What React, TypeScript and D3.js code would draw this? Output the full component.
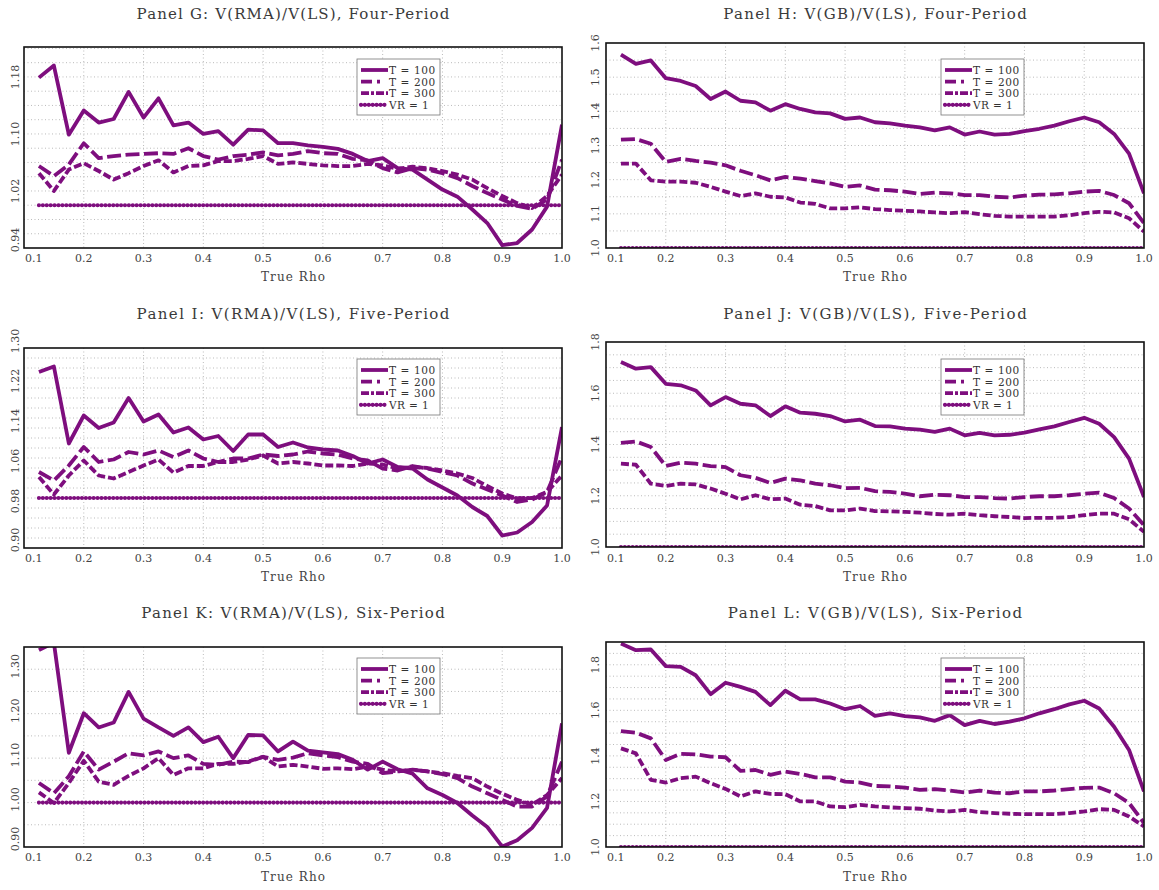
import * as d3 from 'd3'

// true rho grid shared by every panel
const rho = [0.125, 0.15, 0.175, 0.2, 0.225, 0.25, 0.275, 0.3, 0.325, 0.35,
  0.375, 0.4, 0.425, 0.45, 0.475, 0.5, 0.525, 0.55, 0.575, 0.6,
  0.625, 0.65, 0.675, 0.7, 0.725, 0.75, 0.775, 0.8, 0.825, 0.85,
  0.875, 0.9, 0.925, 0.95, 0.975, 1.0]

const xTicks = [0.1, 0.2, 0.3, 0.4, 0.5, 0.6, 0.7, 0.8, 0.9, 1.0]
const xTickLabels = ['0.1', '0.2', '0.3', '0.4', '0.5', '0.6', '0.7', '0.8', '0.9', '1.0']
const legendLabels = ['T = 100', 'T = 200', 'T = 300', 'VR = 1']
const vrLevel = 1

// Panel G
const gT100 = [1.179, 1.196, 1.099, 1.133, 1.116, 1.121, 1.159, 1.123, 1.150, 1.112,
  1.116, 1.100, 1.104, 1.085, 1.106, 1.105, 1.087, 1.087, 1.084, 1.082,
  1.079, 1.072, 1.062, 1.066, 1.052, 1.050, 1.036, 1.022, 1.012, 0.994,
  0.975, 0.944, 0.947, 0.966, 0.998, 1.113]
const gT200 = [1.055, 1.041, 1.057, 1.087, 1.066, 1.069, 1.071, 1.072, 1.073, 1.072,
  1.080, 1.069, 1.064, 1.069, 1.071, 1.074, 1.070, 1.072, 1.076, 1.073,
  1.072, 1.065, 1.063, 1.052, 1.046, 1.052, 1.050, 1.045, 1.038, 1.027,
  1.017, 1.008, 0.999, 0.995, 1.008, 1.064]
const gT300 = [1.045, 1.020, 1.050, 1.059, 1.048, 1.036, 1.045, 1.055, 1.063, 1.046,
  1.055, 1.056, 1.062, 1.062, 1.065, 1.069, 1.058, 1.060, 1.058, 1.056,
  1.055, 1.055, 1.058, 1.056, 1.051, 1.054, 1.052, 1.048, 1.043, 1.036,
  1.024, 1.013, 1.003, 0.996, 1.013, 1.043]

// Panel H
const hT100 = [1.566, 1.539, 1.549, 1.497, 1.489, 1.474, 1.436, 1.458, 1.431, 1.426,
  1.402, 1.421, 1.407, 1.397, 1.394, 1.378, 1.382, 1.368, 1.365, 1.358,
  1.353, 1.344, 1.353, 1.332, 1.341, 1.332, 1.334, 1.342, 1.349, 1.358,
  1.371, 1.382, 1.368, 1.334, 1.276, 1.160]
const hT200 = [1.317, 1.319, 1.305, 1.252, 1.261, 1.255, 1.250, 1.242, 1.226, 1.213,
  1.198, 1.208, 1.203, 1.196, 1.189, 1.179, 1.183, 1.171, 1.169, 1.165,
  1.158, 1.162, 1.160, 1.155, 1.155, 1.150, 1.148, 1.153, 1.156, 1.157,
  1.160, 1.165, 1.167, 1.155, 1.131, 1.073]
const hT300 = [1.247, 1.247, 1.198, 1.194, 1.194, 1.191, 1.179, 1.165, 1.152, 1.160,
  1.150, 1.148, 1.133, 1.129, 1.116, 1.116, 1.119, 1.114, 1.111, 1.109,
  1.107, 1.104, 1.102, 1.105, 1.099, 1.094, 1.092, 1.092, 1.092, 1.092,
  1.096, 1.102, 1.106, 1.104, 1.087, 1.048]

// Panel I
const iT100 = [1.252, 1.263, 1.109, 1.165, 1.140, 1.151, 1.200, 1.153, 1.167, 1.131,
  1.141, 1.117, 1.124, 1.094, 1.127, 1.127, 1.102, 1.111, 1.101, 1.097,
  1.095, 1.084, 1.069, 1.077, 1.062, 1.059, 1.037, 1.021, 1.005, 0.982,
  0.964, 0.925, 0.931, 0.952, 0.985, 1.142]
const iT200 = [1.052, 1.035, 1.065, 1.102, 1.072, 1.077, 1.092, 1.087, 1.095, 1.082,
  1.095, 1.079, 1.072, 1.079, 1.079, 1.087, 1.084, 1.087, 1.093, 1.089,
  1.087, 1.079, 1.075, 1.059, 1.055, 1.064, 1.059, 1.052, 1.045, 1.029,
  1.017, 1.005, 0.992, 0.997, 1.012, 1.082]
const iT300 = [1.042, 1.007, 1.045, 1.075, 1.045, 1.039, 1.052, 1.065, 1.077, 1.051,
  1.064, 1.064, 1.072, 1.072, 1.077, 1.085, 1.069, 1.072, 1.069, 1.065,
  1.065, 1.064, 1.069, 1.067, 1.059, 1.062, 1.060, 1.055, 1.049, 1.040,
  1.024, 1.009, 0.999, 1.000, 1.012, 1.045]

// Panel J
const jT100 = [1.722, 1.696, 1.702, 1.637, 1.631, 1.611, 1.553, 1.585, 1.559, 1.553,
  1.511, 1.549, 1.524, 1.520, 1.511, 1.490, 1.497, 1.472, 1.471, 1.462,
  1.458, 1.449, 1.462, 1.436, 1.445, 1.436, 1.438, 1.446, 1.459, 1.471,
  1.488, 1.504, 1.481, 1.429, 1.345, 1.195]
const jT200 = [1.406, 1.412, 1.390, 1.316, 1.329, 1.325, 1.316, 1.312, 1.280, 1.270,
  1.250, 1.267, 1.260, 1.247, 1.241, 1.230, 1.231, 1.218, 1.215, 1.208,
  1.198, 1.204, 1.202, 1.195, 1.195, 1.191, 1.189, 1.195, 1.198, 1.198,
  1.202, 1.208, 1.212, 1.191, 1.150, 1.085]
const jT300 = [1.325, 1.321, 1.247, 1.238, 1.247, 1.244, 1.228, 1.208, 1.186, 1.202,
  1.186, 1.189, 1.165, 1.160, 1.143, 1.143, 1.150, 1.140, 1.139, 1.137,
  1.134, 1.129, 1.126, 1.130, 1.124, 1.120, 1.117, 1.113, 1.114, 1.114,
  1.117, 1.124, 1.130, 1.130, 1.108, 1.059]

// Panel K
const kT100 = [1.343, 1.360, 1.112, 1.201, 1.169, 1.180, 1.249, 1.189, 1.169, 1.150,
  1.169, 1.136, 1.148, 1.100, 1.152, 1.151, 1.115, 1.137, 1.117, 1.113,
  1.109, 1.096, 1.074, 1.092, 1.075, 1.065, 1.032, 1.017, 0.999, 0.971,
  0.945, 0.901, 0.915, 0.943, 0.988, 1.178]
const kT200 = [1.044, 1.021, 1.059, 1.115, 1.074, 1.092, 1.111, 1.106, 1.115, 1.100,
  1.106, 1.087, 1.085, 1.092, 1.091, 1.103, 1.096, 1.101, 1.111, 1.106,
  1.102, 1.092, 1.087, 1.066, 1.070, 1.074, 1.070, 1.064, 1.055, 1.036,
  1.021, 1.006, 0.991, 0.991, 1.014, 1.092]
const kT300 = [1.023, 0.999, 1.044, 1.094, 1.047, 1.040, 1.060, 1.077, 1.100, 1.062,
  1.077, 1.077, 1.087, 1.087, 1.092, 1.103, 1.081, 1.085, 1.081, 1.076,
  1.077, 1.075, 1.081, 1.074, 1.070, 1.074, 1.070, 1.066, 1.060, 1.055,
  1.036, 1.020, 1.006, 0.995, 1.017, 1.055]

// Panel L
const lT100 = [1.893, 1.864, 1.867, 1.794, 1.791, 1.754, 1.671, 1.721, 1.703, 1.681,
  1.623, 1.686, 1.648, 1.648, 1.630, 1.605, 1.619, 1.576, 1.587, 1.575,
  1.569, 1.554, 1.579, 1.535, 1.554, 1.540, 1.550, 1.565, 1.587, 1.605,
  1.626, 1.642, 1.608, 1.528, 1.426, 1.244]
const lT200 = [1.509, 1.502, 1.477, 1.382, 1.409, 1.407, 1.397, 1.394, 1.334, 1.338,
  1.317, 1.331, 1.321, 1.306, 1.306, 1.287, 1.283, 1.268, 1.266, 1.261,
  1.251, 1.254, 1.248, 1.239, 1.248, 1.239, 1.236, 1.244, 1.244, 1.248,
  1.254, 1.260, 1.261, 1.236, 1.193, 1.105]
const lT300 = [1.433, 1.411, 1.295, 1.283, 1.302, 1.309, 1.280, 1.255, 1.222, 1.244,
  1.233, 1.232, 1.200, 1.200, 1.178, 1.175, 1.185, 1.178, 1.174, 1.171,
  1.168, 1.160, 1.156, 1.163, 1.153, 1.149, 1.146, 1.144, 1.144, 1.144,
  1.149, 1.156, 1.166, 1.163, 1.134, 1.090]

const PURPLE = '#7e0e7e'
const SERIF = '"DejaVu Serif", "Liberation Serif", serif'

// dash patterns: plot lines read as plain dashes, legend samples show the dash-dot
const styles = [
  { dash: null, legend: null, width: 3.8, cap: 'butt' },
  { dash: '14 4.5', legend: '11 5 3 9', width: 3.8, cap: 'butt' },
  { dash: '8 3', legend: '8 2 3 2', width: 3.8, cap: 'butt' },
  { dash: '0.01 3.9', legend: '0.01 3.9', width: 4.2, cap: 'round' },
]

const panels = [
  { id: 'G', title: 'Panel G: V(RMA)/V(LS), Four-Period', box: [24, 47, 562, 248], yDomain: [0.94, 1.222], grid: 0.02,
    yTicks: [0.94, 1.02, 1.10, 1.18], yLabels: ['0.94', '1.02', '1.10', '1.18'], series: [gT100, gT200, gT300], row: 0, col: 0, shift: 0 },
  { id: 'H', title: 'Panel H: V(GB)/V(LS), Four-Period', box: [606, 43, 1144, 248], yDomain: [1.0, 1.6], grid: 0.05,
    yTicks: [1.0, 1.1, 1.2, 1.3, 1.4, 1.5, 1.6], yLabels: ['1.0', '1.1', '1.2', '1.3', '1.4', '1.5', '1.6'], series: [hT100, hT200, hT300], row: 0, col: 1, shift: 0 },
  { id: 'I', title: 'Panel I: V(RMA)/V(LS), Five-Period', box: [24, 348, 562, 548], yDomain: [0.90, 1.30], grid: 0.02,
    yTicks: [0.90, 0.98, 1.06, 1.14, 1.22, 1.30], yLabels: ['0.90', '0.98', '1.06', '1.14', '1.22', '1.30'], series: [iT100, iT200, iT300], row: 1, col: 0, shift: -7 },
  { id: 'J', title: 'Panel J: V(GB)/V(LS), Five-Period', box: [606, 342, 1144, 547], yDomain: [1.0, 1.8], grid: 0.05,
    yTicks: [1.0, 1.2, 1.4, 1.6, 1.8], yLabels: ['1.0', '1.2', '1.4', '1.6', '1.8'], series: [jT100, jT200, jT300], row: 1, col: 1, shift: 0 },
  { id: 'K', title: 'Panel K: V(RMA)/V(LS), Six-Period', box: [24, 647, 562, 847], yDomain: [0.90, 1.35], grid: 0.05,
    yTicks: [0.90, 1.00, 1.10, 1.20, 1.30], yLabels: ['0.90', '1.00', '1.10', '1.20', '1.30'], series: [kT100, kT200, kT300], row: 2, col: 0, shift: -3 },
  { id: 'L', title: 'Panel L: V(GB)/V(LS), Six-Period', box: [606, 642, 1144, 847], yDomain: [1.0, 1.9], grid: 0.05,
    yTicks: [1.0, 1.2, 1.4, 1.6, 1.8], yLabels: ['1.0', '1.2', '1.4', '1.6', '1.8'], series: [lT100, lT200, lT300], row: 2, col: 1, shift: 0 },
]

const titleY = [14, 314, 613]
const xLabelY = [258, 558, 857]
const xTitleY = [277, 577, 877]
const legendY = [59, 359, 658]
const legendX = [357, 941]
const yLabelX = [15, 595]

function Panel({ p }) {
  const [x0, y0, x1, y1] = p.box
  const x = d3.scaleLinear().domain([0.1, 1.0]).range([x0, x1])
  const y = d3.scaleLinear().domain(p.yDomain).range([y1, y0])
  const line = d3.line<number>().x((_, i) => x(rho[i])).y(d => y(d))
  const gridY = d3.range(p.yDomain[0] + p.grid, p.yDomain[1] - 1e-6, p.grid)
  const cx = (x0 + x1) / 2
  const lx = legendX[p.col]
  const ly = legendY[p.row]

  return (
    <g>
      <defs>
        <clipPath id={'clip' + p.id}>
          <rect x={x0} y={y0} width={x1 - x0} height={y1 - y0} />
        </clipPath>
      </defs>
      <text x={cx} y={titleY[p.row]} textAnchor="middle" dominantBaseline="central"
        fontFamily={SERIF} fontSize={15} fill="#3a3a3a" textLength={p.title.length * 9.2} lengthAdjust="spacing">{p.title}</text>

      {/* grid */}
      {gridY.map((v, i) => (
        <line key={'gy' + i} x1={x0} x2={x1} y1={y(v)} y2={y(v)} stroke="#aaa" strokeWidth={0.8} strokeDasharray="1 2.5" />
      ))}
      {xTicks.slice(1, -1).map((v, i) => (
        <line key={'gx' + i} x1={x(v)} x2={x(v)} y1={y0} y2={y1} stroke="#aaa" strokeWidth={0.8} strokeDasharray="1 2.5" />
      ))}

      {/* series */}
      <g clipPath={`url(#clip${p.id})`}>
        {p.series.map((s, i) => (
          <path key={i} d={line(s) || ''} fill="none" stroke={PURPLE} strokeWidth={styles[i].width}
            strokeDasharray={styles[i].dash || undefined} strokeLinejoin="round" strokeLinecap={styles[i].cap} />
        ))}
        <line x1={x(rho[0])} x2={x(rho[rho.length - 1])} y1={y(vrLevel)} y2={y(vrLevel)} stroke={PURPLE}
          strokeWidth={styles[3].width} strokeDasharray={styles[3].dash} strokeLinecap="round" />
      </g>

      <rect x={x0} y={y0} width={x1 - x0} height={y1 - y0} fill="none" stroke="#111" strokeWidth={1.6} />

      {/* x axis */}
      {xTicks.map((v, i) => (
        <text key={'xt' + i} x={i === 0 ? x(v) + 1 : x(v)} y={xLabelY[p.row]} textAnchor={i === 0 ? 'start' : 'middle'}
          dominantBaseline="central" fontFamily={SERIF} fontSize={11} fill="#444">{xTickLabels[i]}</text>
      ))}
      <text x={cx} y={xTitleY[p.row]} textAnchor="middle" dominantBaseline="central" fontFamily={SERIF} fontSize={12}
        fill="#444" textLength={64} lengthAdjust="spacing">True Rho</text>

      {/* y axis */}
      {p.yTicks.map((v, i) => {
        let yy = y(v) + p.shift
        if (p.yLabels[i].length > 3 && yy > y1 - 9) yy = y1 - 8
        return (
          <text key={'yt' + i} transform={`translate(${yLabelX[p.col]},${yy}) rotate(-90)`} textAnchor="middle"
            dominantBaseline="central" fontFamily={SERIF} fontSize={11} fill="#444">{p.yLabels[i]}</text>
        )
      })}

      {/* legend */}
      <rect x={lx} y={ly} width={83} height={56} fill="white" stroke="#777" strokeWidth={0.8} />
      {legendLabels.map((t, i) => {
        const yy = ly + 11 + i * 11.6
        return (
          <g key={'lg' + i}>
            <line x1={lx + 4} x2={lx + 31} y1={yy} y2={yy} stroke={PURPLE} strokeWidth={styles[i].width}
              strokeDasharray={styles[i].legend || undefined} strokeLinecap={styles[i].cap} />
            <text x={lx + 32} y={yy} dominantBaseline="central" fontFamily={SERIF} fontSize={10.5} fill="#333"
              textLength={t.length * 6.6} lengthAdjust="spacing">{t}</text>
          </g>
        )
      })}
    </g>
  )
}

export default function App() {
  return (
    <svg width={1159} height={890} style={{ position: 'absolute', left: 0, top: 0, background: 'white' }}>
      {panels.map(p => <Panel key={p.id} p={p} />)}
    </svg>
  )
}
